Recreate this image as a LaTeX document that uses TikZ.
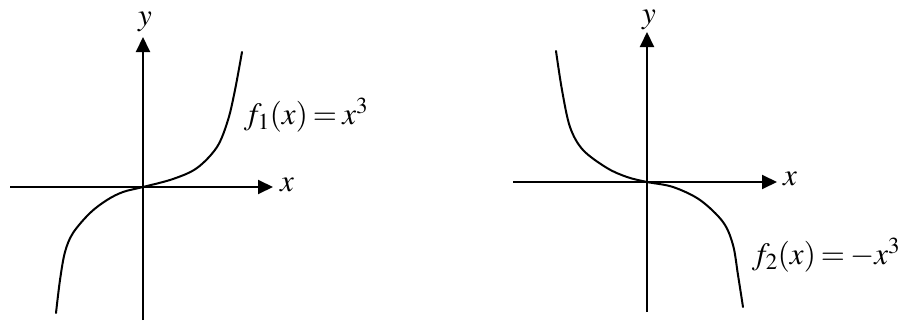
\documentclass[tikz,border=0pt]{standalone}
\usepackage{fontspec}
\setmainfont{Liberation Serif}
\usepackage{mathptmx}
\usetikzlibrary{arrows.meta}
\tikzset{
  axis/.style={line width=2pt,-{Triangle[length=15pt,width=14pt]}},
  curve/.style={line width=2pt,line join=round,line cap=round},
  lbl/.style={inner sep=0pt,font=\fontsize{31}{34}\selectfont}
}
\begin{document}
\begin{tikzpicture}[x=1pt,y=-1pt]
\useasboundingbox (0,0) rectangle (898,324);
\thickmuskip=3mu
\medmuskip=2mu
% left graph
\coordinate (LxS) at (10,187);
\coordinate (LxE) at (273,187);
\coordinate (LyS) at (143,320);
\coordinate (LyE) at (143,37);
\draw[axis] (LxS) -- (LxE);
\draw[axis] (LyS) -- (LyE);
\draw[curve] plot[smooth,tension=0.55] coordinates {(56,313) (60,280) (65,252) (73,233) (90,213) (107,200) (123,192) (143,187) (173,179) (197,168) (217,147) (228,120) (235,90) (242,52)};
\node[lbl] (Lx) at (287,185) {$x$};
\node[lbl] (Ly) at (145,22) {$y$};
\node[lbl] (f1) at (306,115) {$f_1(x)=x^3$};
% right graph
\coordinate (RxS) at (513,182);
\coordinate (RxE) at (777,182);
\coordinate (RyS) at (647,312);
\coordinate (RyE) at (647,32);
\draw[axis] (RxS) -- (RxE);
\draw[axis] (RyS) -- (RyE);
\draw[curve] plot[smooth,tension=0.55] coordinates {(556,51) (562,90) (570,127) (583,150) (607,168) (627,177) (647,182) (673,187) (700,200) (723,222) (733,245) (738,275) (743,307)};
\node[lbl] (Rx) at (790,179) {$x$};
\node[lbl] (Ry) at (649,20) {$y$};
\node[lbl] (f2) at (826,255) {$f_2(x)=-x^3$};
\end{tikzpicture}
\end{document}
